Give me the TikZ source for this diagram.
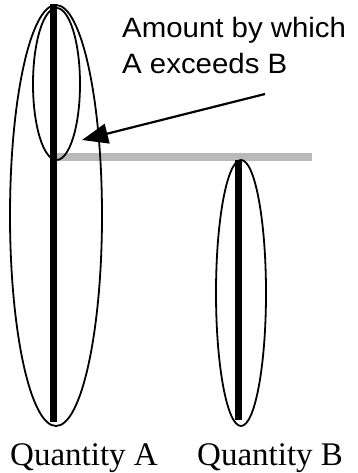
\documentclass[tikz,border=0pt]{standalone}
\usepackage{fontspec}
\setmainfont{Liberation Serif}
\setsansfont{Liberation Sans}
\usetikzlibrary{arrows.meta}

\tikzset{
  qbar/.style={line width=7},
  qloop/.style={line width=1.8},
  caption/.style={font=\fontsize{33}{38}\selectfont, anchor=base west, inner sep=0},
  note/.style={font=\sffamily\fontsize{28}{32}\selectfont, xscale=1.05, anchor=base west, inner sep=0}
}

\begin{document}
\begin{tikzpicture}[x=1pt,y=-1pt]
\useasboundingbox (0,0) rectangle (357,473);

    % level of B
    \draw [color=gray!55, line width=7] (55,157)--(312,157);

    % quantity A
    \draw [qloop] (56,215.5) ellipse (46 and 210.5);
    \draw [qloop] (56.5,84) ellipse (23.5 and 76);
    \draw [qbar] (53,4)--(53,422);

    % quantity B
    \draw [qloop] (241,293) ellipse (25 and 133);
    \draw [qbar] (238.5,160)--(238.5,420);

    % labels
    \node [note] (amount) at (122,38) {Amount by which};
    \node [note] (exceeds) at (122,74) {A exceeds B};
    \node [caption] (qa) at (10,465) {Quantity A};
    \node [caption] (qb) at (197,465) {Quantity B};

    \coordinate (tail) at (265,94);
    \coordinate (tip) at (82,140);
    \draw [line width=2.2, -{Triangle[length=26pt,width=20pt]}] (tail)--(tip);

\end{tikzpicture}
\end{document}
